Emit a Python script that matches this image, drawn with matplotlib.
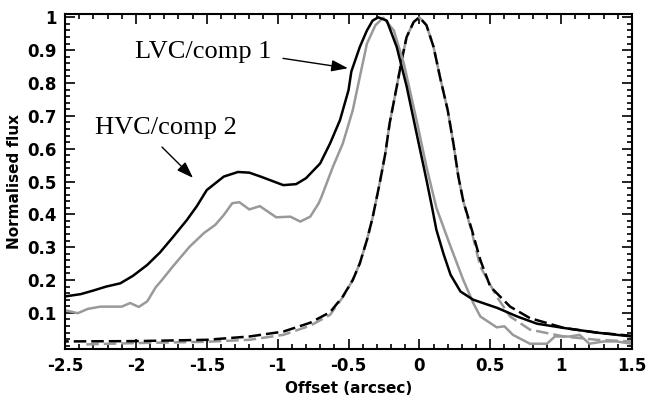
import matplotlib.pyplot as plt
from matplotlib.ticker import MultipleLocator, FormatStrFormatter

# total profile (black solid)
tot_x = [-2.5, -2.39, -2.30, -2.21, -2.11, -2.02, -1.92, -1.83, -1.74, -1.64, -1.57, -1.50,
         -1.38, -1.28, -1.20, -1.12, -0.96, -0.87, -0.80, -0.70, -0.63, -0.56, -0.50, -0.48,
         -0.42, -0.37, -0.33, -0.29, -0.23, -0.16, -0.09, -0.02, 0.05, 0.09, 0.12, 0.17,
         0.22, 0.29, 0.38, 0.55, 0.69, 0.83, 1.02, 1.25, 1.5]
tot_y = [0.150, 0.157, 0.168, 0.180, 0.190, 0.213, 0.246, 0.284, 0.330, 0.383, 0.425, 0.474,
         0.515, 0.529, 0.527, 0.515, 0.489, 0.492, 0.510, 0.555, 0.616, 0.687, 0.778, 0.835,
         0.910, 0.960, 0.990, 1.000, 0.990, 0.910, 0.790, 0.647, 0.505, 0.420, 0.353, 0.280,
         0.216, 0.165, 0.140, 0.115, 0.089, 0.067, 0.054, 0.040, 0.028]

# second profile (grey solid)
obs_x = [-2.49, -2.41, -2.34, -2.25, -2.10, -2.04, -1.98, -1.92, -1.86, -1.82, -1.74, -1.62,
         -1.52, -1.44, -1.38, -1.32, -1.27, -1.20, -1.125, -1.01, -0.91, -0.84, -0.77, -0.71,
         -0.69, -0.61, -0.54, -0.47, -0.42, -0.37, -0.31, -0.255, -0.18, -0.11, -0.02, 0.05,
         0.12, 0.22, 0.31, 0.38, 0.43, 0.50, 0.545, 0.60, 0.66, 0.78, 0.90, 0.956, 1.06,
         1.13, 1.20, 1.30, 1.39, 1.5]
obs_y = [0.107, 0.099, 0.112, 0.119, 0.119, 0.130, 0.118, 0.135, 0.178, 0.198, 0.241, 0.302,
         0.343, 0.368, 0.398, 0.434, 0.437, 0.415, 0.425, 0.391, 0.393, 0.378, 0.393, 0.434,
         0.454, 0.545, 0.616, 0.717, 0.819, 0.920, 0.976, 0.999, 0.960, 0.860, 0.687, 0.545,
         0.420, 0.302, 0.200, 0.130, 0.089, 0.069, 0.056, 0.059, 0.033, 0.006, 0.006, 0.028,
         0.028, 0.033, 0.006, 0.013, 0.013, 0.006]

# continuum profiles (dashed)
cb_x = [-2.5, -2.0, -1.5, -1.2, -0.96, -0.77, -0.63, -0.54, -0.47, -0.42, -0.37, -0.33,
        -0.28, -0.24, -0.21, -0.16, -0.125, -0.09, -0.04, 0.0, 0.05, 0.10, 0.145, 0.20,
        0.24, 0.275, 0.31, 0.37, 0.43, 0.50, 0.64, 0.78, 1.02, 1.25, 1.5]
cb_y = [0.013, 0.014, 0.018, 0.028, 0.043, 0.070, 0.102, 0.150, 0.200, 0.251, 0.322, 0.390,
        0.495, 0.586, 0.677, 0.788, 0.869, 0.940, 0.986, 1.000, 0.976, 0.910, 0.819, 0.717,
        0.616, 0.515, 0.440, 0.353, 0.261, 0.180, 0.119, 0.084, 0.054, 0.040, 0.030]

cg_x = [-2.35, -2.0, -1.5, -1.2, -0.96, -0.77, -0.63, -0.54, -0.47, -0.42, -0.37, -0.33,
        -0.28, -0.24, -0.21, -0.16, -0.125, -0.09, -0.04, 0.0, 0.05, 0.10, 0.145, 0.20,
        0.24, 0.275, 0.31, 0.37, 0.43, 0.545, 0.64, 0.78, 1.02, 1.25, 1.5]
cg_y = [0.004, 0.008, 0.012, 0.018, 0.033, 0.061, 0.094, 0.148, 0.200, 0.251, 0.322, 0.390,
        0.495, 0.586, 0.677, 0.788, 0.869, 0.940, 0.986, 1.000, 0.976, 0.910, 0.819, 0.717,
        0.616, 0.515, 0.440, 0.345, 0.241, 0.150, 0.089, 0.049, 0.028, 0.018, 0.013]

fig = plt.figure(figsize=(6.47, 4.01), dpi=100)
ax = fig.add_axes([0.1005, 0.1297, 0.8763, 0.8353])

grey = '#999999'
ax.plot(cg_x, cg_y, color=grey, lw=1.8, ls=(0, (5, 2)))
ax.plot(cb_x, cb_y, color='black', lw=1.8, ls=(3.5, (5, 2)))
ax.plot(obs_x, obs_y, color=grey, lw=1.8)
ax.plot(tot_x, tot_y, color='black', lw=1.8)

ax.set_xlim(-2.5, 1.5)
ax.set_ylim(-0.01, 1.01)
ax.xaxis.set_major_locator(MultipleLocator(0.5))
ax.xaxis.set_minor_locator(MultipleLocator(0.1))
ax.set_yticks([0.1, 0.2, 0.3, 0.4, 0.5, 0.6, 0.7, 0.8, 0.9, 1.0])
ax.yaxis.set_minor_locator(MultipleLocator(0.02))
ax.xaxis.set_major_formatter(FormatStrFormatter('%g'))
ax.yaxis.set_major_formatter(FormatStrFormatter('%g'))
ax.tick_params(which='both', direction='in', top=True, right=True, width=1.2)
ax.tick_params(which='major', length=7, labelsize=12, pad=6)
ax.tick_params(which='minor', length=3.5)
for lab in ax.get_xticklabels() + ax.get_yticklabels():
    lab.set_fontweight('bold')
for s in ax.spines.values():
    s.set_linewidth(1.5)

ax.set_xlabel('Offset (arcsec)', fontsize=11, fontweight='bold', labelpad=4)
ax.set_ylabel('Normalised flux', fontsize=11, fontweight='bold', labelpad=4)

arrow = dict(arrowstyle='-|>,head_length=1.0,head_width=0.35', color='black', lw=1,
             shrinkA=0, shrinkB=0)
ax.annotate('', xy=(-0.504, 0.845), xytext=(-0.962, 0.875), arrowprops=arrow)
ax.annotate('', xy=(-1.597, 0.511), xytext=(-1.816, 0.605), arrowprops=arrow)
ax.text(-2.006, 0.894, 'LVC/comp 1', family='Liberation Serif', fontsize=19, va='center')
ax.text(-2.29, 0.663, 'HVC/comp 2', family='Liberation Serif', fontsize=19, va='center')

fig.savefig('out.png', dpi=100)
